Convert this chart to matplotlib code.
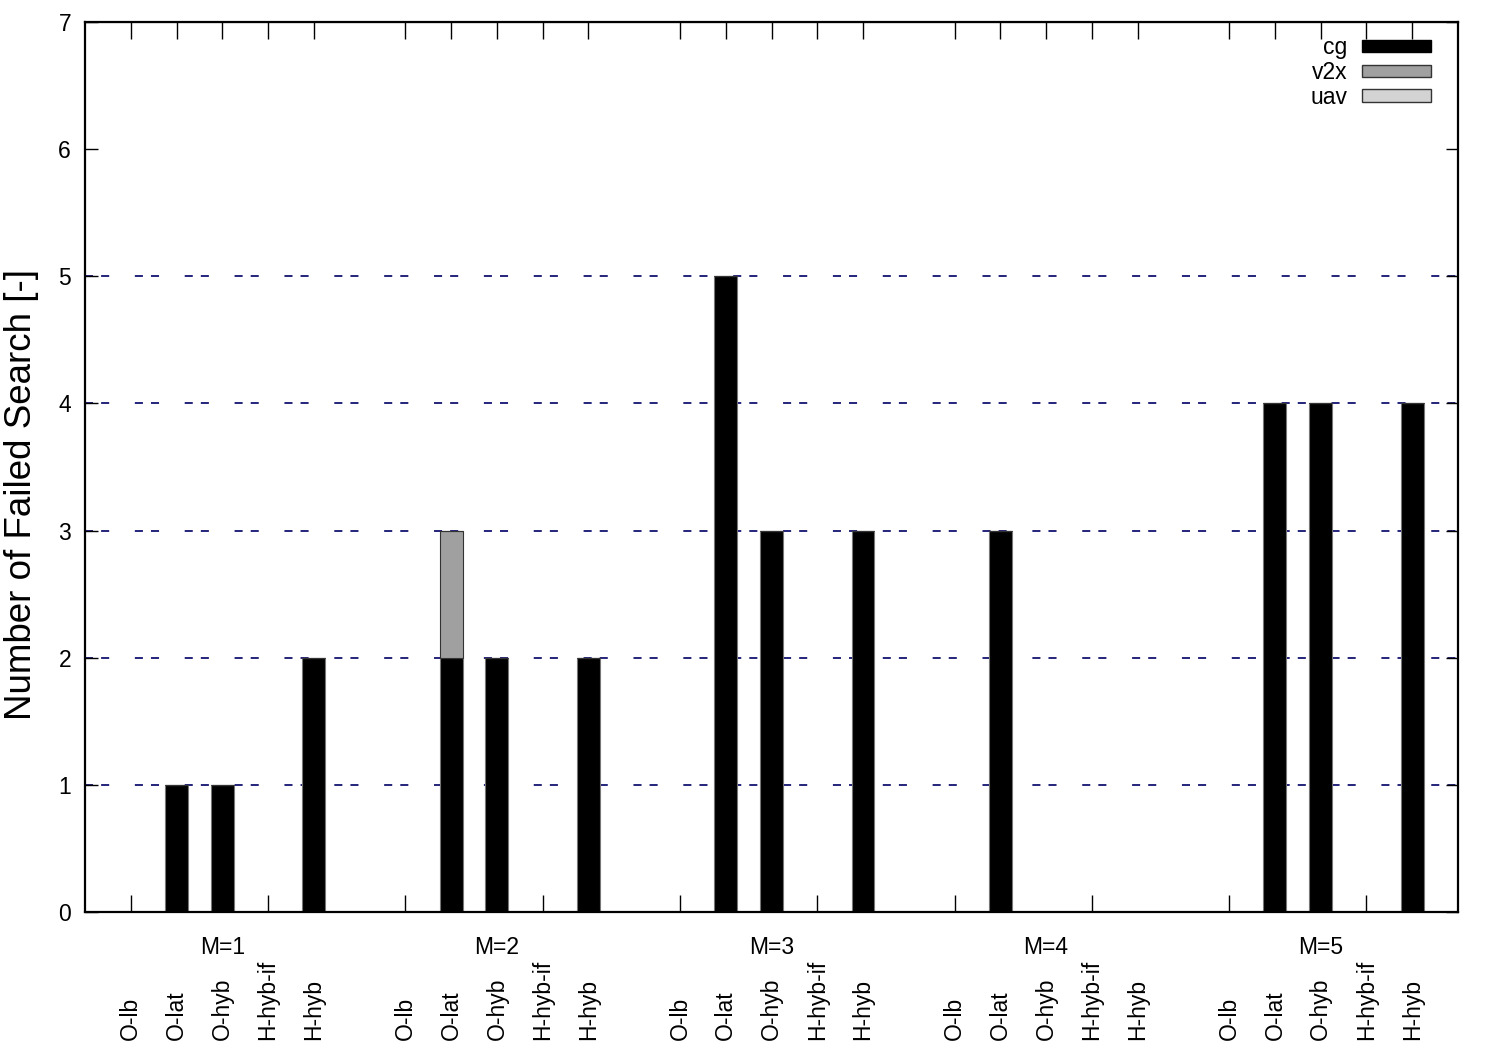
import matplotlib
matplotlib.use("Agg")
import matplotlib.pyplot as plt
import matplotlib.transforms as mtransforms
from matplotlib.patches import Patch
import numpy as np

plt.rcParams['font.family'] = ['Liberation Sans', 'DejaVu Sans']
plt.rcParams['lines.scale_dashes'] = False

# data
groups = ["M=1", "M=2", "M=3", "M=4", "M=5"]
methods = ["O-lb", "O-lat", "O-hyb", "H-hyb-if", "H-hyb"]
cg = [[0, 1, 1, 0, 2],
      [0, 2, 2, 0, 2],
      [0, 5, 3, 0, 3],
      [0, 3, 0, 0, 0],
      [0, 4, 4, 0, 4]]
v2x = [[0, 0, 0, 0, 0],
       [0, 1, 0, 0, 0],
       [0, 0, 0, 0, 0],
       [0, 0, 0, 0, 0],
       [0, 0, 0, 0, 0]]
uav = [[0, 0, 0, 0, 0],
       [0, 0, 0, 0, 0],
       [0, 0, 0, 0, 0],
       [0, 0, 0, 0, 0],
       [0, 0, 0, 0, 0]]

step = len(methods) + 1
xpos = np.array([[g*step + c for c in range(len(methods))] for g in range(len(groups))])
cg_a = np.array(cg)
v2x_a = np.array(v2x)
uav_a = np.array(uav)

fs = 16.5

fig = plt.figure(figsize=(15, 10.5), dpi=100)
ax = fig.add_axes([85/1500, 1-912/1050, (1458-85)/1500, (912-22)/1050])

# grid lines
for yv in range(1, 6):
    ln = ax.axhline(yv, color="#24247a", lw=1.4, zorder=1)
    ln.set_dashes([5.8, 5.8, 5.8, 18.5])

w = 0.5
x = xpos.ravel()
ax.bar(x, cg_a.ravel(), w, color="black", edgecolor="#777777", lw=0.8, zorder=2)
ax.bar(x, v2x_a.ravel(), w, bottom=cg_a.ravel(), color="#a0a0a0",
       edgecolor="#333333", lw=0.8, zorder=2)
ax.bar(x, uav_a.ravel(), w, bottom=(cg_a+v2x_a).ravel(), color="#d3d3d3",
       edgecolor="#333333", lw=0.8, zorder=2)

ax.set_xlim(-1, len(groups)*step - 1)
ax.set_ylim(0, 7)
ax.set_yticks(range(0, 8))
ax.tick_params(axis='y', direction='in', length=9, width=1, right=True,
               labelsize=fs, pad=10)
ax.set_xticks(np.arange(0, len(groups)*step - 1, 3))
ax.tick_params(axis='x', direction='in', length=12, width=1, labelbottom=False)
for s in ax.spines.values():
    s.set_linewidth(1.6)

top = ax.secondary_xaxis('top')
top.set_xticks(x)
top.tick_params(direction='in', length=12, width=1, labeltop=False)

ax.set_ylabel("Number of Failed Search [-]", fontsize=26.5)
ax.yaxis.set_label_coords((22 - 85)/1373, (912 - 495)/890)
ax.yaxis.label.set_va('center')

trans = mtransforms.blended_transform_factory(ax.transData, ax.transAxes)
for g, name in enumerate(groups):
    ax.text(xpos[g][2], -0.0404, name, transform=trans, ha='center',
            va='center', fontsize=fs)
    for c, m in enumerate(methods):
        ax.text(xpos[g][c], -0.144, m, transform=trans, ha='center',
                va='bottom', rotation=90, fontsize=fs)

handles = [Patch(facecolor="black", edgecolor="black", label="cg"),
           Patch(facecolor="#a0a0a0", edgecolor="#333333", label="v2x"),
           Patch(facecolor="#d3d3d3", edgecolor="#333333", label="uav")]
ax.legend(handles=handles, loc='upper right', frameon=False, markerfirst=False,
          fontsize=fs, handlelength=3.0, handleheight=0.45, labelspacing=0.08,
          handletextpad=0.65, borderaxespad=0.0, borderpad=0.0,
          bbox_to_anchor=(1 - 27/1373, 1 - 14/890))

fig.savefig("out.png", dpi=100)
